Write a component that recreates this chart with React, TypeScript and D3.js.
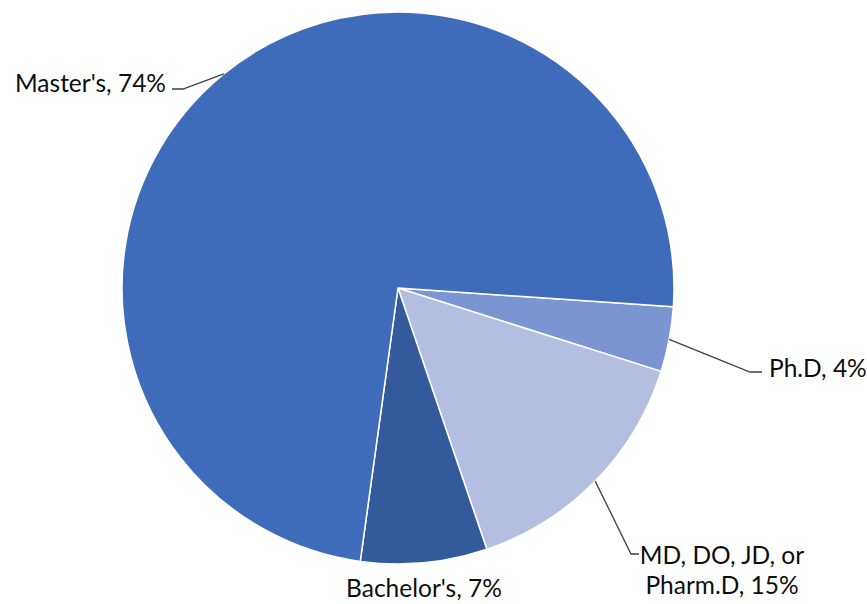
import React from "react";
import * as d3 from "d3";

const categories = ["Ph.D", "MD, DO, JD, or Pharm.D", "Bachelor's", "Master's"];
const values = [3.8, 14.9, 7.4, 73.9];
const labelLines = [["Ph.D, 4%"], ["MD, DO, JD, or", "Pharm.D, 15%"], ["Bachelor's, 7%"], ["Master's, 74%"]];
const colors = ["#7B94D2", "#B3BEE0", "#335A9B", "#3F6CBA"];

const W = 867, H = 604;
const cx = 398, cy = 288, R = 276;
const FONT = "Lato, 'Open Sans', sans-serif";

// label layout: elbow point, end point, text anchor x, text y (first line center), anchor
const labelLayout = [
  { elbow: [750, 372], end: [762, 372], tx: 769, ty: 367, anchor: "start", leader: true },
  { elbow: [631, 554], end: [639, 554], tx: 722, ty: 554, anchor: "middle", leader: true },
  { elbow: null, end: null, tx: 424, ty: 587, anchor: "middle", leader: false },
  { elbow: [183, 89], end: [172, 89], tx: 166, ty: 82, anchor: "end", leader: true },
];

export default function App() {
  const start = (93.9 * Math.PI) / 180;
  const pie = d3.pie<number>().sort(null).value((d) => d).startAngle(start).endAngle(start + 2 * Math.PI);
  const arcs = pie(values);
  const arc = d3.arc<d3.PieArcDatum<number>>().innerRadius(0).outerRadius(R);

  return (
    <svg width={W} height={H} style={{ position: "absolute", left: 0, top: 0, background: "#fff" }}>
      <g transform={`translate(${cx},${cy})`}>
        {arcs.map((a, i) => (
          <path key={categories[i]} d={arc(a) || ""} fill={colors[i]} stroke="#fff" strokeWidth={1.5} strokeLinejoin="round" />
        ))}
      </g>
      {arcs.map((a, i) => {
        const L = labelLayout[i];
        const mid = (a.startAngle + a.endAngle) / 2;
        const sx = cx + R * Math.sin(mid);
        const sy = cy - R * Math.cos(mid);
        return (
          <g key={"l" + i}>
            {L.leader && L.elbow && L.end && (
              <polyline
                points={`${sx},${sy} ${L.elbow[0]},${L.elbow[1]} ${L.end[0]},${L.end[1]}`}
                fill="none"
                stroke="#404040"
                strokeWidth={1.3}
              />
            )}
            <text fontFamily={FONT} fontSize={24.5} fill="#0d0d0d" textAnchor={L.anchor as any}>
              {labelLines[i].map((t, j) => (
                <tspan key={j} x={L.tx} y={L.ty + j * 30} dominantBaseline="central">
                  {t}
                </tspan>
              ))}
            </text>
          </g>
        );
      })}
    </svg>
  );
}
